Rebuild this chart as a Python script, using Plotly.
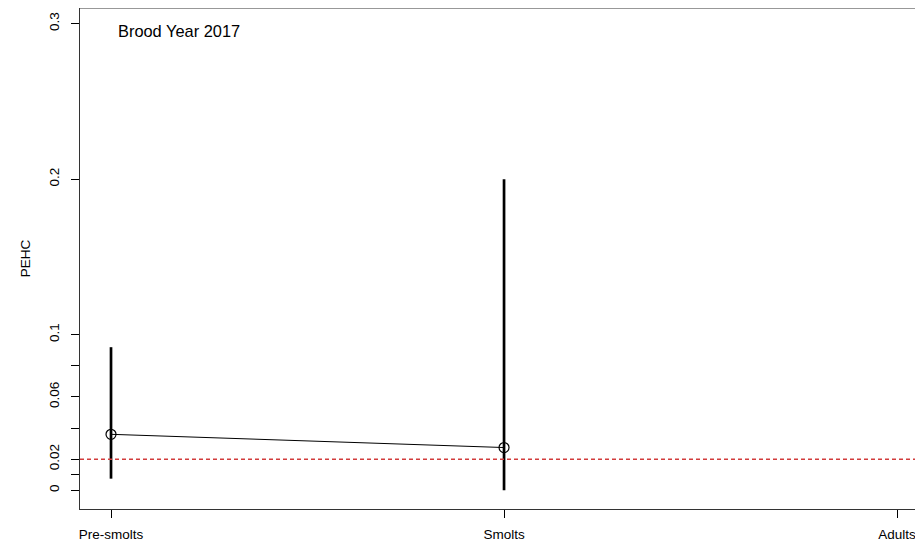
import plotly.graph_objects as go

# ---- data ----
stages = ["Pre-smolts", "Smolts", "Adults"]
pehc = [0.036, 0.0275, None]
lower = [0.0075, 0.0, None]
upper = [0.092, 0.2, None]
threshold = 0.02
y_tickvals = [0, 0.01, 0.02, 0.04, 0.06, 0.08, 0.1, 0.2, 0.3]
y_ticktext = ["0", "", "0.02", "", "0.06", "", "0.1", "0.2", "0.3"]
label = "Brood Year 2017"
y_title = "PEHC"

err_plus = [(u - m) if m is not None else None for m, u in zip(pehc, upper)]
err_minus = [(m - l) if m is not None else None for m, l in zip(pehc, lower)]

FONT = "Liberation Sans, Arial, sans-serif"

fig = go.Figure()
fig.add_trace(go.Scatter(
    x=stages, y=pehc, mode="lines+markers",
    line=dict(color="black", width=1),
    marker=dict(symbol="circle-open", size=10, color="black", line=dict(width=1.2)),
    error_y=dict(type="data", symmetric=False, array=err_plus, arrayminus=err_minus,
                 thickness=2.7, width=0, color="black"),
    showlegend=False, hoverinfo="skip",
))

fig.add_shape(type="line", xref="paper", x0=0, x1=1, yref="y", y0=threshold, y1=threshold,
              line=dict(color="#d23c3c", width=1.4, dash="4px,3px"))
# top frame line
fig.add_shape(type="line", xref="paper", x0=0, x1=1, yref="paper", y0=1, y1=1,
              line=dict(color="#333333", width=1))

fig.add_annotation(text=label, xref="paper", yref="paper", x=0.0427, y=0.955,
                   xanchor="left", yanchor="middle", showarrow=False,
                   font=dict(family=FONT, size=16.4, color="black"))

fig.update_xaxes(
    type="category", range=[-0.0789, 2.066],
    showline=True, linecolor="#333333", linewidth=1,
    ticks="outside", ticklen=8, tickcolor="black", tickwidth=1,
    ticklabelstandoff=5,
    showgrid=False, zeroline=False,
    tickfont=dict(family=FONT, size=13.5, color="black"),
)
fig.update_yaxes(
    range=[-0.012, 0.310],
    tickmode="array", tickvals=y_tickvals, ticktext=y_ticktext, tickangle=-90,
    showline=True, linecolor="#333333", linewidth=1,
    ticks="outside", ticklen=8, tickcolor="black", tickwidth=1,
    ticklabelstandoff=7,
    showgrid=False, zeroline=False,
    tickfont=dict(family=FONT, size=13.5, color="black"),
    title=dict(text=y_title, standoff=12, font=dict(family=FONT, size=13.5, color="black")),
)
fig.update_layout(
    width=915, height=534,
    margin=dict(l=72, r=0, t=0, b=28),
    plot_bgcolor="white", paper_bgcolor="white",
)
fig.write_html("out.html")
